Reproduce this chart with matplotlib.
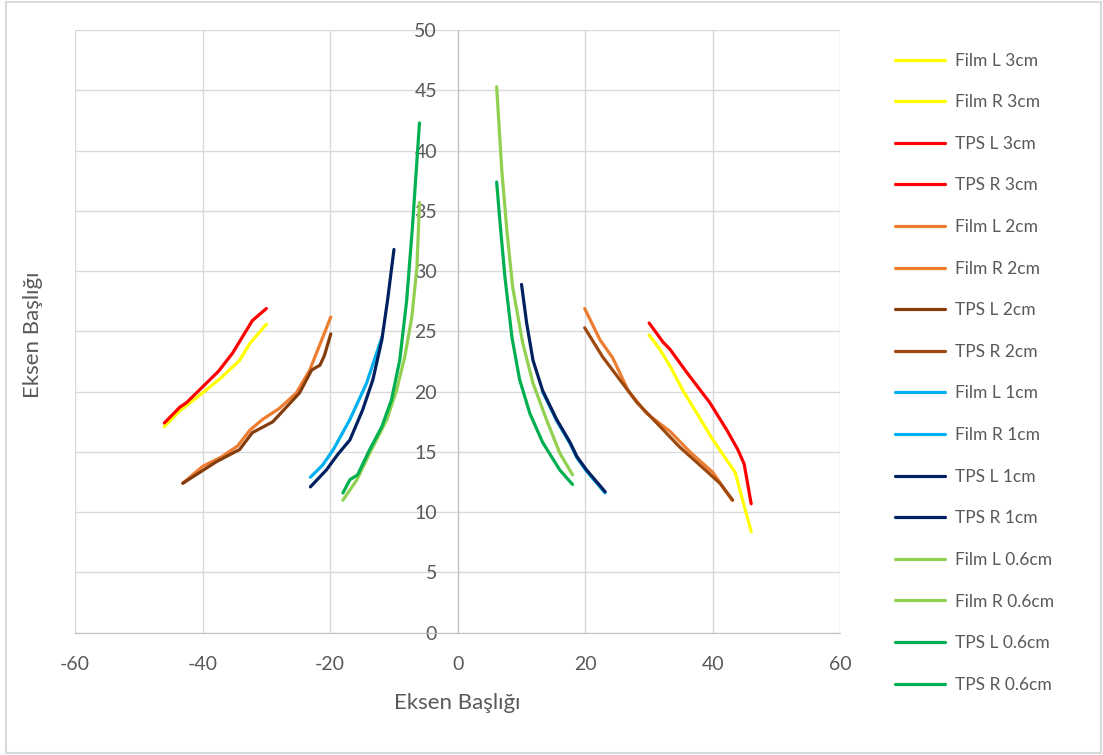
import matplotlib
matplotlib.use("Agg")
import matplotlib.pyplot as plt
from matplotlib.patches import Rectangle

plt.rcParams['font.family'] = ['Lato', 'DejaVu Sans']
plt.rcParams['axes.unicode_minus'] = False

# --- data ---
film_l_3cm_x = [-46, -43.6, -40, -37, -34.2, -32.6, -30]
film_l_3cm_y = [17.1, 18.4, 19.9, 21.2, 22.6, 24.0, 25.6]
film_r_3cm_x = [30, 31.7, 33.3, 35.3, 37.5, 40, 42.2, 43.5, 44.5, 46]
film_r_3cm_y = [24.7, 23.5, 22.1, 20.1, 18.2, 16.0, 14.3, 13.3, 11.3, 8.4]
tps_l_3cm_x = [-46, -43.6, -42.5, -40, -37.5, -35.3, -32.2, -30]
tps_l_3cm_y = [17.4, 18.7, 19.1, 20.4, 21.7, 23.2, 25.9, 26.9]
tps_r_3cm_x = [30, 32.2, 33.3, 35.9, 39.5, 42.2, 43.9, 44.9, 46]
tps_r_3cm_y = [25.7, 24.1, 23.5, 21.6, 19.1, 16.8, 15.2, 14.0, 10.7]

film_l_2cm_x = [-43.1, -40, -37, -34.5, -32.6, -30.6, -28, -25.3, -23.2, -19.9]
film_l_2cm_y = [12.4, 13.8, 14.6, 15.5, 16.8, 17.7, 18.6, 19.9, 21.8, 26.2]
film_r_2cm_x = [19.9, 22.3, 24.3, 26.7, 29.6, 33.3, 36.4, 40, 43]
film_r_2cm_y = [26.9, 24.3, 22.8, 20.1, 18.2, 16.7, 15.0, 13.3, 11.0]
tps_l_2cm_x = [-43.1, -37.8, -34.2, -32.2, -29, -24.8, -22.9, -21.6, -20.9, -19.9]
tps_l_2cm_y = [12.4, 14.2, 15.2, 16.6, 17.5, 19.9, 21.8, 22.2, 23.0, 24.8]
tps_r_2cm_x = [19.9, 22.7, 25.4, 28.1, 31.2, 34.8, 38.4, 41.1, 43.1]
tps_r_2cm_y = [25.3, 22.9, 21.0, 19.1, 17.4, 15.4, 13.7, 12.4, 11.0]

film_l_1cm_x = [-23.1, -21.2, -19.5, -16.9, -14.3, -11.9]
film_l_1cm_y = [12.9, 13.9, 15.2, 17.7, 20.7, 24.5]
film_r_1cm_x = [13.3, 15.5, 17.6, 18.7, 20.2, 23.1]
film_r_1cm_y = [20.0, 17.6, 15.7, 14.5, 13.4, 11.6]
tps_l_1cm_x = [-23.1, -20.6, -18.8, -16.9, -14.9, -13.3, -11.9, -11, -10]
tps_l_1cm_y = [12.1, 13.5, 14.8, 16.0, 18.5, 21.0, 24.3, 27.6, 31.8]
tps_r_1cm_x = [10, 10.8, 11.8, 13.3, 15.5, 17.6, 18.7, 20.2, 23.1]
tps_r_1cm_y = [28.9, 25.7, 22.6, 20.1, 17.7, 15.8, 14.6, 13.5, 11.7]

film_l_06_x = [-18, -15.8, -13.8, -11.1, -9.6, -8.3, -7.2, -6.4, -6]
film_l_06_y = [11.0, 12.7, 14.9, 17.7, 20.1, 22.9, 26.2, 30.3, 35.7]
film_r_06_x = [6.1, 6.9, 7.7, 8.6, 10.2, 11.8, 13.9, 16, 18]
film_r_06_y = [45.3, 38.4, 33.4, 28.7, 24.0, 20.7, 17.7, 14.9, 13.1]
tps_l_06_x = [-18, -16.9, -15.7, -13.8, -11.9, -10.4, -9.1, -8, -7.1, -6]
tps_l_06_y = [11.6, 12.7, 13.1, 15.2, 17.1, 19.3, 22.6, 27.6, 33.7, 42.3]
tps_r_06_x = [6.1, 6.6, 7.4, 8.5, 9.7, 11.3, 13.3, 16, 18]
tps_r_06_y = [37.4, 34.2, 29.5, 24.5, 21.0, 18.2, 15.8, 13.5, 12.3]

series = [
    ("Film L 3cm", film_l_3cm_x, film_l_3cm_y, "#FFFF00"),
    ("Film R 3cm", film_r_3cm_x, film_r_3cm_y, "#FFFF00"),
    ("TPS L 3cm", tps_l_3cm_x, tps_l_3cm_y, "#FF0000"),
    ("TPS R 3cm", tps_r_3cm_x, tps_r_3cm_y, "#FF0000"),
    ("Film L 2cm", film_l_2cm_x, film_l_2cm_y, "#ED7D31"),
    ("Film R 2cm", film_r_2cm_x, film_r_2cm_y, "#ED7D31"),
    ("TPS L 2cm", tps_l_2cm_x, tps_l_2cm_y, "#843C0C"),
    ("TPS R 2cm", tps_r_2cm_x, tps_r_2cm_y, "#9E480E"),
    ("Film L 1cm", film_l_1cm_x, film_l_1cm_y, "#00B0F0"),
    ("Film R 1cm", film_r_1cm_x, film_r_1cm_y, "#00B0F0"),
    ("TPS L 1cm", tps_l_1cm_x, tps_l_1cm_y, "#002060"),
    ("TPS R 1cm", tps_r_1cm_x, tps_r_1cm_y, "#002060"),
    ("Film L 0.6cm", film_l_06_x, film_l_06_y, "#92D050"),
    ("Film R 0.6cm", film_r_06_x, film_r_06_y, "#92D050"),
    ("TPS L 0.6cm", tps_l_06_x, tps_l_06_y, "#00B050"),
    ("TPS R 0.6cm", tps_r_06_x, tps_r_06_y, "#00B050"),
]

x_ticks = [-60, -40, -20, 0, 20, 40, 60]
y_ticks = [0, 5, 10, 15, 20, 25, 30, 35, 40, 45, 50]

fig = plt.figure(figsize=(11.03, 7.55), dpi=100)
fig.patches.append(Rectangle((0.0055, 0.003), 0.9925, 0.994, transform=fig.transFigure,
                             fill=False, edgecolor="#d9d9d9", linewidth=1.5))
ax = fig.add_axes([0.068, 0.162, 0.694, 0.798])

for name, xs, ys, col in series:
    ax.plot(xs, ys, color=col, lw=2.3, label=name, solid_capstyle='round')

ax.set_xlim(-60, 60)
ax.set_ylim(0, 50)
ax.set_xticks(x_ticks)
ax.set_yticks(y_ticks)
ax.grid(True, color="#d9d9d9", lw=1.0)
ax.set_axisbelow(True)

for s in ['top', 'right']:
    ax.spines[s].set_visible(False)
ax.spines['left'].set_position(('data', 0))
ax.spines['left'].set_color("#bfbfbf")
ax.spines['bottom'].set_color("#bfbfbf")
ax.tick_params(axis='both', length=0, labelsize=14, labelcolor="#595959")
ax.tick_params(axis='x', pad=17)
ax.tick_params(axis='y', pad=15)

fig.text(0.415, 0.069, "Eksen Başlığı", ha='center', va='center', fontsize=16, color="#595959")
fig.text(0.030, 0.556, "Eksen Başlığı", ha='center', va='center', rotation=90,
         fontsize=16, color="#595959")

fig.legend(loc='upper left', bbox_to_anchor=(0.797, 0.951), frameon=False,
           fontsize=12.5, labelcolor="#595959", handlelength=2.9,
           handletextpad=0.55, labelspacing=1.475)

fig.savefig("out.png", dpi=100)
